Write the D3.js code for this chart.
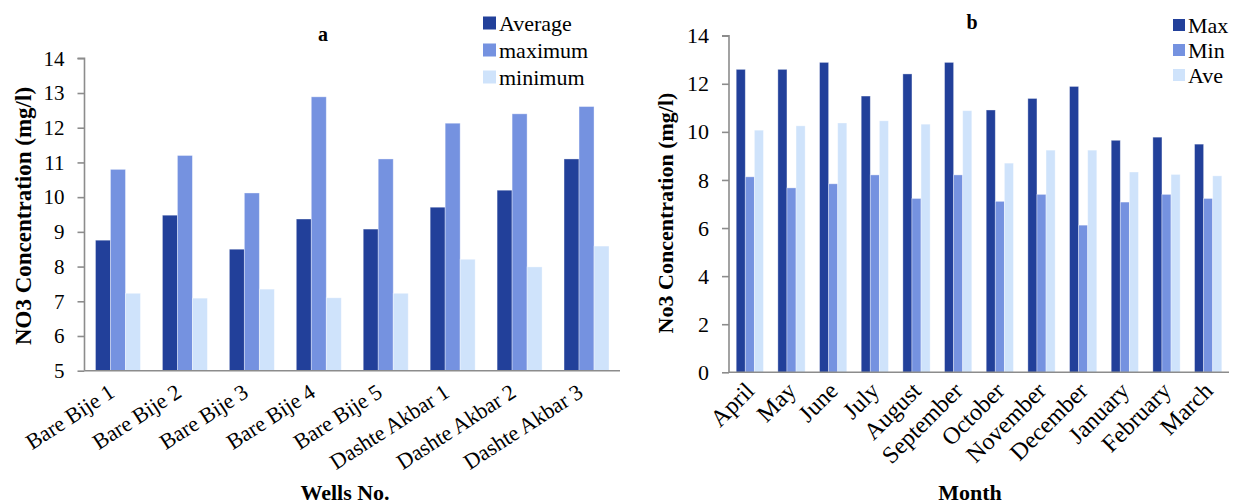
<!DOCTYPE html>
<html><head><meta charset="utf-8">
<script src="https://cdn.jsdelivr.net/npm/d3@7"></script>
<style>
body{margin:0;background:#fff;}
svg{display:block;}
svg text{font-family:"Liberation Serif","Times New Roman",Times,serif !important;}
</style></head>
<body>
<svg id="c" width="1235" height="504"></svg>
<script>
// Chart a data
const wells = ["Bare Bije 1","Bare Bije 2","Bare Bije 3","Bare Bije 4","Bare Bije 5","Dashte Akbar 1","Dashte Akbar 2","Dashte Akbar 3"];
const wellAverage = [8.76, 9.48, 8.50, 9.37, 9.08, 9.71, 10.20, 11.10];
const wellMaximum = [10.80, 11.20, 10.12, 12.89, 11.10, 12.13, 12.40, 12.61];
const wellMinimum = [7.23, 7.09, 7.35, 7.10, 7.23, 8.21, 7.99, 8.59];
const wellSeriesNames = ["Average","maximum","minimum"];
const wellTicks = [5,6,7,8,9,10,11,12,13,14];

// Chart b data
const months = ["April","May","June","July","August","September","October","November","December","January","February","March"];
const monthMax = [12.60, 12.60, 12.89, 11.49, 12.41, 12.89, 10.91, 11.39, 11.89, 9.65, 9.78, 9.49];
const monthMin = [8.13, 7.67, 7.84, 8.21, 7.23, 8.21, 7.11, 7.40, 6.12, 7.08, 7.40, 7.23];
const monthAve = [10.07, 10.25, 10.37, 10.46, 10.32, 10.88, 8.70, 9.24, 9.24, 8.33, 8.23, 8.17];
const monthSeriesNames = ["Max","Min","Ave"];
const monthTicks = [0,2,4,6,8,10,12,14];

const colors = ["#22409a","#7592e0","#cfe3fb"];
const FONT = '"Liberation Serif","Times New Roman",Times,serif';
const svg = d3.select("#c");

function drawChart(o){
  const g = svg.append("g").attr("font-family",FONT);
  const x0 = d3.scaleBand().domain(o.cats).range([o.left,o.right]).paddingInner(0).paddingOuter(0);
  const bw = x0.bandwidth()*o.barFrac;
  const y = d3.scaleLinear().domain(o.domain).range([o.bottom,o.top]);
  o.series.forEach((vals,si)=>{
    g.append("g").selectAll("rect").data(vals).join("rect")
      .attr("x",(d,i)=>x0(o.cats[i]) + x0.bandwidth()/2 - bw*1.5 + si*bw)
      .attr("width",bw)
      .attr("y",d=>y(d))
      .attr("height",d=>y(o.domain[0])-y(d))
      .attr("fill",colors[si])
      .attr("stroke","rgba(255,255,255,0.45)")
      .attr("stroke-width",0.8);
  });
  const ya = g.append("g").attr("transform",`translate(${o.left},0)`)
    .call(d3.axisLeft(y).tickValues(o.ticks).tickSize(7).tickPadding(o.tickPad).tickFormat(d3.format("d")));
  ya.attr("font-family",FONT);
  ya.select(".domain").attr("stroke","#8c8c8c").attr("stroke-width",1.6)
    .attr("d",`M-7,${y(o.domain[1])}H0V${o.bottom}`);
  ya.selectAll(".tick line").attr("stroke","#8c8c8c").attr("stroke-width",1.6);
  ya.selectAll(".tick text").attr("font-size",o.tickFont).attr("fill","#000");
  g.append("line").attr("x1",o.left).attr("x2",o.right).attr("y1",o.bottom).attr("y2",o.bottom)
    .attr("stroke","#8c8c8c").attr("stroke-width",1.6);
  g.append("g").selectAll("text").data(o.cats).join("text")
    .attr("transform",d=>`translate(${x0(d)+x0.bandwidth()/2+o.labDx},${o.bottom+o.labDy}) rotate(${o.angle})`)
    .attr("text-anchor","end")
    .attr("font-size",o.labFont)
    .text(d=>d);
  g.append("text").attr("transform",`translate(${o.yTitleX},${o.yTitleY}) rotate(-90)`)
    .attr("text-anchor","middle").attr("font-weight","bold").attr("font-size",o.yTitleFont)
    .text(o.yTitle);
  g.append("text").attr("x",o.xTitleX).attr("y",o.xTitleY).attr("text-anchor","middle")
    .attr("font-weight","bold").attr("font-size",o.xTitleFont).text(o.xTitle);
  g.append("text").attr("x",o.titleX).attr("y",o.titleY).attr("text-anchor","middle")
    .attr("font-weight","bold").attr("font-size",o.titleFont).text(o.title);
  const lg = g.append("g");
  o.names.forEach((n,i)=>{
    const cy = o.legY + i*o.legStep;
    lg.append("rect").attr("x",o.legX).attr("y",cy-o.legSq/2).attr("width",o.legSq).attr("height",o.legSq).attr("fill",colors[i]);
    lg.append("text").attr("x",o.legX+o.legSq+3).attr("y",cy).attr("dy","0.35em")
      .attr("font-size",o.legFont).text(n);
  });
}

drawChart({
  cats: wells, series:[wellAverage,wellMaximum,wellMinimum], names: wellSeriesNames,
  domain:[5,14], ticks: wellTicks,
  left:84.5, right:620, top:58.3, bottom:370.7, barFrac:0.224,
  tickPad:13, tickFont:21,
  angle:-33, labDx:-2, labDy:25, labFont:22,
  yTitle:"NO3 Concentration (mg/l)", yTitleX:31, yTitleY:216, yTitleFont:23,
  xTitle:"Wells No.", xTitleX:345, xTitleY:500, xTitleFont:22,
  title:"a", titleX:323, titleY:41, titleFont:20,
  legX:483, legY:23, legStep:27, legSq:13, legFont:22
});

drawChart({
  cats: months, series:[monthMax,monthMin,monthAve], names: monthSeriesNames,
  domain:[0,14], ticks: monthTicks,
  left:729, right:1229, top:35.7, bottom:372.3, barFrac:0.218,
  tickPad:13, tickFont:22,
  angle:-45, labDx:6, labDy:20, labFont:24,
  yTitle:"No3 Concentration (mg/l)", yTitleX:673, yTitleY:213, yTitleFont:22,
  xTitle:"Month", xTitleX:970, xTitleY:500, xTitleFont:22,
  title:"b", titleX:972, titleY:29, titleFont:20,
  legX:1173, legY:25, legStep:25, legSq:12, legFont:22
});
</script>
</body></html>
